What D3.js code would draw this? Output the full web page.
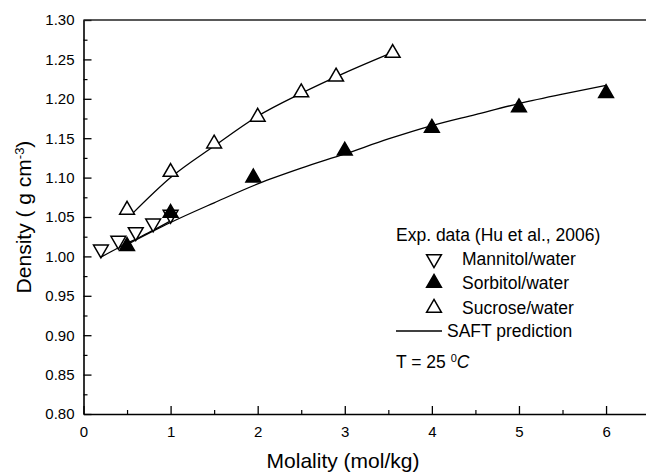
<!DOCTYPE html>
<html>
<head>
<meta charset="utf-8">
<script src="https://cdn.jsdelivr.net/npm/d3@7"></script>
<style>
  html, body { margin: 0; padding: 0; background: #fff; }
  svg { display: block; font-family: "Liberation Sans", Arial, Helvetica, sans-serif; }
</style>
</head>
<body>
<svg id="chart" width="646" height="472"></svg>
<script>
// ---- data ----
const xTicks = [0, 1, 2, 3, 4, 5, 6];
const yTicks = [0.80, 0.85, 0.90, 0.95, 1.00, 1.05, 1.10, 1.15, 1.20, 1.25, 1.30];

const mannitolM = [0.2, 0.4, 0.6, 0.8, 1.0];
const mannitolD = [1.009, 1.020, 1.031, 1.042, 1.053];

const sorbitolM = [0.5, 1.0, 1.95, 3.0, 4.0, 5.0, 6.0];
const sorbitolD = [1.013, 1.055, 1.100, 1.134, 1.163, 1.189, 1.207];

const sucroseM = [0.5, 1.0, 1.5, 2.0, 2.5, 2.9, 3.55];
const sucroseD = [1.059, 1.107, 1.143, 1.177, 1.208, 1.228, 1.258];

// SAFT predictions
const saftSucroseM = [0.55, 1.0, 1.5, 2.0, 2.5, 3.0, 3.55];
const saftSucroseD = [1.053, 1.100, 1.140, 1.178, 1.207, 1.233, 1.259];

const saftMannitolM = [0.2, 0.4, 0.6, 0.8, 1.0];
const saftMannitolD = [0.999, 1.011, 1.022, 1.033, 1.045];

const saftSorbitolM = [0.5, 1.0, 1.5, 2.0, 2.5, 3.0, 3.5, 4.0, 4.5, 5.0, 5.5, 6.0];
const saftSorbitolD = [1.015, 1.043, 1.068, 1.092, 1.112, 1.130, 1.149, 1.166, 1.180, 1.194, 1.206, 1.217];

// ---- layout ----
const svg = d3.select("#chart");
const mLeft = 83.5, mTop = 20, mBottom = 414, mRight = 649.6;

const x = d3.scaleLinear().domain([0, 6.5]).range([mLeft, mRight]);
const y = d3.scaleLinear().domain([0.8, 1.3]).range([mBottom, mTop]);

// minor ticks
svg.append("g")
  .attr("transform", `translate(0,${mBottom})`)
  .call(d3.axisBottom(x).tickValues(d3.range(0.5, 6.5, 1)).tickSize(-4).tickSizeOuter(0).tickFormat(""))
  .call(g => g.select(".domain").remove())
  .call(g => g.selectAll("line").attr("stroke-width", 1.2));
svg.append("g")
  .attr("transform", `translate(${mLeft},0)`)
  .call(d3.axisLeft(y).tickValues(d3.range(0.825, 1.3, 0.05)).tickSize(-4).tickSizeOuter(0).tickFormat(""))
  .call(g => g.select(".domain").remove())
  .call(g => g.selectAll("line").attr("stroke-width", 1.2));

// major axes
const xAxis = svg.append("g")
  .attr("transform", `translate(0,${mBottom})`)
  .call(d3.axisBottom(x).tickValues(xTicks).tickSize(-8).tickSizeOuter(0).tickPadding(12).tickFormat(d3.format("d")));
const yAxis = svg.append("g")
  .attr("transform", `translate(${mLeft},0)`)
  .call(d3.axisLeft(y).tickValues(yTicks).tickSize(-8).tickSizeOuter(0).tickPadding(9).tickFormat(d3.format(".2f")));

[xAxis, yAxis].forEach(a => {
  a.selectAll("text").attr("font-size", 15).attr("fill", "#000")
    .attr("font-family", "'Liberation Sans', Arial, sans-serif");
  a.selectAll("line").attr("stroke", "#000").attr("stroke-width", 1.3);
  a.select(".domain").attr("stroke", "#000").attr("stroke-width", 1.6);
});

// top frame line
svg.append("line")
  .attr("x1", x(0)).attr("x2", x(6.5))
  .attr("y1", y(1.3)).attr("y2", y(1.3))
  .attr("stroke", "#222").attr("stroke-width", 1.6);

// axis titles
svg.append("text")
  .attr("x", 343).attr("y", 468)
  .attr("text-anchor", "middle")
  .attr("font-size", 21)
  .text("Molality (mol/kg)");

const yt = svg.append("text")
  .attr("transform", `translate(31,${(mTop + mBottom) / 2}) rotate(-90)`)
  .attr("text-anchor", "middle")
  .attr("font-size", 21);
yt.append("tspan").text("Density ( g cm");
yt.append("tspan").attr("baseline-shift", "super").attr("font-size", 13).text("-3");
yt.append("tspan").text(")");

// SAFT lines
const line = d3.line().x(d => x(d[0])).y(d => y(d[1])).curve(d3.curveMonotoneX);
[[saftSucroseM, saftSucroseD], [saftMannitolM, saftMannitolD], [saftSorbitolM, saftSorbitolD]].forEach(([m, dd]) => {
  svg.append("path")
    .datum(m.map((v, i) => [v, dd[i]]))
    .attr("d", line)
    .attr("fill", "none")
    .attr("stroke", "#000")
    .attr("stroke-width", 1.3);
});

// markers
const tri = d3.symbol().type(d3.symbolTriangle).size(95);
function drawMarkers(m, dd, opts) {
  svg.append("g").selectAll("path")
    .data(m.map((v, i) => [v, dd[i]]))
    .join("path")
    .attr("d", tri)
    .attr("transform", d => `translate(${x(d[0])},${y(d[1])})${opts.down ? " rotate(180)" : ""}`)
    .attr("fill", opts.fill)
    .attr("stroke", "#000")
    .attr("stroke-width", 1.5)
    .attr("stroke-linejoin", "miter");
}
drawMarkers(mannitolM, mannitolD, { fill: "#fff", down: true });
drawMarkers(sucroseM, sucroseD, { fill: "#fff", down: false });
drawMarkers(sorbitolM, sorbitolD, { fill: "#000", down: false });

// legend
const lg = svg.append("g").attr("font-size", 17.5).attr("fill", "#000");
lg.append("text").attr("x", 396).attr("y", 241).text("Exp. data (Hu et al., 2006)");
const legItems = [
  { label: "Mannitol/water", fill: "#fff", down: true, yy: 259 },
  { label: "Sorbitol/water", fill: "#000", down: false, yy: 283 },
  { label: "Sucrose/water", fill: "#fff", down: false, yy: 308 }
];
legItems.forEach(it => {
  lg.append("path")
    .attr("d", tri)
    .attr("transform", `translate(434,${it.yy})${it.down ? " rotate(180)" : ""}`)
    .attr("fill", it.fill).attr("stroke", "#000").attr("stroke-width", 1.5);
  lg.append("text").attr("x", 462).attr("y", it.yy + 6).text(it.label);
});
lg.append("line").attr("x1", 396).attr("x2", 442).attr("y1", 331).attr("y2", 331)
  .attr("stroke", "#000").attr("stroke-width", 1.3);
lg.append("text").attr("x", 447).attr("y", 337).text("SAFT prediction");

const tt = lg.append("text").attr("x", 396).attr("y", 368);
tt.append("tspan").text("T = 25 ");
tt.append("tspan").attr("baseline-shift", "super").attr("font-size", 11).text("0");
tt.append("tspan").attr("font-style", "italic").text("C");
</script>
</body>
</html>
